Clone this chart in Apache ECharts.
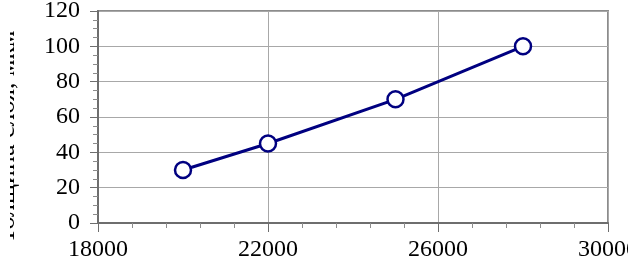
<!DOCTYPE html>
<html>
<head>
<meta charset="utf-8">
<script src="https://cdn.jsdelivr.net/npm/echarts@6/dist/echarts.min.js"></script>
<style>
html,body{margin:0;padding:0;background:#fff;}
#chart{width:628px;height:272px;}
</style>
</head>
<body>
<div id="chart"></div>
<script>
const xValues = [20000, 22000, 25000, 28000];
const yValues = [30, 45, 70, 100];
const yTitle = 'Толщина слоя, мкм';
const xTicks = {min: 18000, max: 30000, interval: 4000};
const yTicks = {min: 0, max: 120, interval: 20};

const chart = echarts.init(document.getElementById('chart'), null, {renderer: 'canvas'});
const font = "'Liberation Serif'";
chart.setOption({
  animation: false,
  backgroundColor: '#ffffff',
  grid: {left: 98, right: 20, top: 11, bottom: 49, show: true, borderColor: '#8c8c8c', borderWidth: 2,
         containLabel: false, outerBoundsMode: 'none'},
  graphic: [{
    type: 'text', x: 20, y: 137, rotation: Math.PI / 2, z: 10,
    style: {text: yTitle, fill: '#000', font: "26px 'Liberation Serif'", textAlign: 'center', textVerticalAlign: 'bottom'}
  }, {
    type: 'rect', z: 20, shape: {x: 0, y: 0, width: 10, height: 272},
    style: {fill: '#ffffff'}
  }],
  xAxis: {
    type: 'value', min: xTicks.min, max: xTicks.max, interval: xTicks.interval,
    axisLine: {show: true, onZero: false, lineStyle: {color: '#6e6e6e', width: 2}},
    axisTick: {show: true, length: 9, lineStyle: {color: '#6e6e6e', width: 1}},
    minorTick: {show: true, splitNumber: 5, length: 5, lineStyle: {color: '#8c8c8c', width: 1}},
    splitLine: {show: true, lineStyle: {color: '#a8a8a8', width: 1}},
    axisLabel: {color: '#000', fontFamily: font, fontSize: 24, margin: 15, showMaxLabel: true,
                formatter: v => String(v)}
  },
  yAxis: {
    type: 'value', min: yTicks.min, max: yTicks.max, interval: yTicks.interval,
    axisLine: {show: true, onZero: false, lineStyle: {color: '#6e6e6e', width: 2}},
    axisTick: {show: true, length: 8, lineStyle: {color: '#6e6e6e', width: 1}},
    minorTick: {show: true, splitNumber: 4, length: 5, lineStyle: {color: '#8c8c8c', width: 1}},
    splitLine: {show: true, lineStyle: {color: '#a8a8a8', width: 1}},
    axisLabel: {color: '#000', fontFamily: font, fontSize: 24, margin: 18, formatter: v => String(v)}
  },
  series: [{
    type: 'line',
    data: xValues.map((x, i) => [x, yValues[i]]),
    lineStyle: {color: '#000080', width: 3},
    symbol: 'circle', symbolSize: 16,
    itemStyle: {color: '#ffffff', borderColor: '#000080', borderWidth: 2.5}
  }]
});
</script>
</body>
</html>
